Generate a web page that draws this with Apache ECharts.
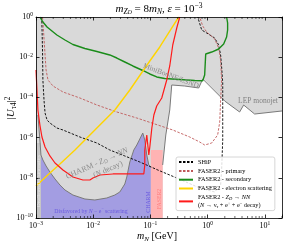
<!DOCTYPE html>
<html><head><meta charset="utf-8">
<script src="https://cdn.jsdelivr.net/npm/echarts@6/dist/echarts.min.js"></script>
<style>html,body{margin:0;padding:0;background:#fff}#c{width:294px;height:245px}</style>
</head><body><div id="c"></div>
<script>
// ---- tick labels (exponents of 10 that carry a label) ----
const xTickExponents = [-3, -2, -1, 0, 1];
const yTickExponents = [0, -2, -4, -6, -8, -10];
const seriesNames = ['SHiP', 'FASER2 - primary', 'FASER2 - secondary', 'FASER2 - electron scattering', 'FASER2 - ZD → NN'];

// ---- curves [m_N (GeV), |U|^2] ----
const shipCurve = [[1.26e-3,1],[1.30e-3,2.28e-2],[1.32e-3,7.34e-4],[1.38e-3,7.43e-5],[1.44e-3,1.67e-5],[1.56e-3,7.51e-6],[1.75e-3,5.32e-6],[2.32e-3,3.00e-6],[2.96e-3,2.39e-6],[5.86e-3,1.07e-6],[1.16e-2,5.38e-7],[1.95e-2,2.42e-7],[3.57e-2,1.22e-7],[6.53e-2,6.11e-8],[0.135,2.44e-8],[0.289,9.78e-9],[0.728,3.11e-9],[1.33,1.97e-9],[1.69,4.38e-9],[1.76,2.44e-8],[1.84,7.60e-7],[1.84,3.33e-5],[1.84,5.20e-4],[1.76,3.25e-3],[1.69,1.29e-2],[1.56,4.05e-2],[1.33,9.02e-2],[0.964,0.160],[0.789,0.226],[0.672,1]];
const primaryCurve = [[1.30e-3,1],[1.35e-3,0.226],[1.44e-3,1.29e-2],[1.50e-3,2.31e-3],[1.62e-3,7.34e-4],[1.98e-3,3.69e-4],[2.96e-3,1.86e-4],[5.86e-3,9.33e-5],[1.16e-2,4.19e-5],[2.59e-2,1.88e-5],[5.79e-2,9.44e-6],[0.135,4.23e-6],[0.246,2.39e-6],[0.487,1.07e-6],[0.728,6.04e-7],[0.889,4.28e-7],[1.18,5.38e-7],[1.50,1.35e-6],[1.63,5.97e-6],[1.69,7.43e-5],[1.76,7.34e-4],[1.69,7.26e-3],[1.56,2.87e-2],[1.33,8.04e-2],[0.964,0.179],[0.821,0.357],[0.728,1]];
const secondaryCurve = [[1.17e-3,1],[1.32e-3,0.564],[1.56e-3,0.318],[1.90e-3,0.201],[2.32e-3,0.127],[3.21e-3,7.18e-2],[4.42e-3,4.28e-2],[7.16e-3,2.71e-2],[1.16e-2,1.92e-2],[1.95e-2,1.29e-2],[2.59e-2,9.12e-3],[3.57e-2,5.77e-3],[4.93e-2,3.65e-3],[7.36e-2,2.18e-3],[9.77e-2,1.46e-3],[0.129,1.04e-3],[0.178,8.71e-4],[0.326,7.78e-4],[0.596,6.93e-4],[0.821,6.78e-4],[0.889,1.30e-3],[0.927,1.44e-2],[1.18,1.81e-2],[1.56,2.56e-2],[1.91,4.54e-2],[2.15,0.101],[2.24,0.226],[2.24,0.503],[2.15,1]];
const scatteringCurve = [[1.0e-3,3.91e-9],[1.75e-3,1.73e-8],[2.62e-3,4.86e-8],[4.80e-3,2.42e-7],[1.07e-2,2.39e-6],[2.39e-2,2.36e-5],[4.37e-2,2.33e-4],[6.80e-2,1.46e-3],[9.77e-2,6.47e-3],[0.146,3.22e-2],[0.218,0.201],[0.313,1]];
const decayCurve = [[1.0e-3,2.31e-3],[1.04e-3,2.33e-4],[1.08e-3,2.36e-5],[1.17e-3,4.23e-6],[1.27e-3,1.07e-6],[1.44e-3,3.40e-7],[1.75e-3,1.22e-7],[2.15e-3,5.45e-8],[2.96e-3,2.44e-8],[4.42e-3,1.10e-8],[6.61e-3,7.78e-9],[8.75e-3,7.78e-9],[9.89e-3,9.78e-9],[1.31e-2,1.38e-8],[2.21e-2,1.55e-8],[4.37e-2,1.55e-8],[7.67e-2,1.55e-8],[7.98e-2,4.34e-8],[7.98e-2,2.42e-7],[8.65e-2,1.35e-6],[9.01e-2,4.28e-7],[9.38e-2,1.36e-7],[9.77e-2,3.40e-7],[0.106,3.00e-6],[0.115,1.33e-5],[0.129,3.73e-5],[0.158,9.33e-5],[0.193,7.34e-4],[0.218,3.65e-3],[0.246,4.05e-2],[0.289,0.284],[0.326,1]];

// ---- excluded / disfavoured regions ----
const excludedEdge = [[0.164,4.34e-8],[0.186,1.35e-6],[0.218,2.36e-5],[0.236,4.14e-4],[0.398,3.69e-4],[0.700,2.94e-4],[0.821,8.22e-4],[0.889,7.34e-4],[1.99,6.62e-5],[3.63,1.88e-5],[4.27,4.19e-5],[6.64,1.49e-5],[20,2.11e-5]];
const allowedBase = [[20,1e-10],[0.164,1e-10]];
const charmEdge = [[1.22e-3,1.36e-7],[1.32e-3,7.69e-8],[1.50e-3,3.87e-8],[1.75e-3,1.94e-8],[2.15e-3,8.71e-9],[2.62e-3,4.38e-9],[3.21e-3,2.47e-9],[4.42e-3,1.39e-9],[7.16e-3,8.81e-10],[1.07e-2,7.87e-10],[1.73e-2,9.89e-10],[2.39e-2,1.39e-9],[2.92e-2,1.97e-9],[3.57e-2,4.92e-9],[3.87e-2,1.10e-8],[4.37e-2,6.11e-8],[5.13e-2,2.42e-7],[5.79e-2,4.28e-7],[6.80e-2,1.07e-6],[7.36e-2,1.69e-6],[7.98e-2,7.60e-7],[8.65e-2,1.36e-7],[9.38e-2,4.34e-8],[0.102,3.45e-8]];
const charmWallTop = [[1.08e-3,1.33e-5],[1.17e-3,7.60e-7]];
const scatterBase = [[0.102,1e-10],[1.22e-3,1e-10]];
const faserBand = [[0.102,1e-10],[0.164,1e-10],[0.164,2.42e-7],[0.102,2.42e-7]];
const kinematicBand = [[1e-3,1e-10],[1.22e-3,1e-10],[1.22e-3,5.38e-7],[1e-3,5.38e-7]];

const F = '"Liberation Serif", "DejaVu Serif", serif';

function tickFmt(list) {
  return v => {
    const e = Math.log10(v), n = Math.round(e);
    if (Math.abs(e - n) > 1e-6 || list.indexOf(n) < 0) return '';
    return '{b|10}{s|' + (n < 0 ? '\u2212' : '') + Math.abs(n) + '}';
  };
}
const labelRich = {
  b: {fontFamily: F, fontSize: 8, lineHeight: 10, verticalAlign: 'middle', color: '#000'},
  s: {fontFamily: F, fontSize: 5.5, lineHeight: 5, verticalAlign: 'top', color: '#000'}
};
function mathRich(m, k, color) {
  const L = Math.round(m * 1.3);
  return {
    i: {fontFamily: F, fontSize: m, fontStyle: 'italic', lineHeight: L, verticalAlign: 'middle', fill: color, color: color},
    r: {fontFamily: F, fontSize: m, lineHeight: L, verticalAlign: 'middle', fill: color, color: color},
    s: {fontFamily: F, fontSize: k, fontStyle: 'italic', lineHeight: k * 0.8, verticalAlign: 'bottom', fill: color, color: color},
    u: {fontFamily: F, fontSize: k, lineHeight: k * 0.8, verticalAlign: 'bottom', fill: color, color: color},
    ss: {fontFamily: F, fontSize: k * 0.75, fontStyle: 'italic', lineHeight: 1, verticalAlign: 'bottom', fill: color, color: color},
    p: {fontFamily: F, fontSize: k, lineHeight: k * 0.7, verticalAlign: 'top', fill: color, color: color}
  };
}

function poly(points, style, z) {
  return {
    type: 'custom', coordinateSystem: 'cartesian2d', data: [points[0]], encode: {x: 0, y: 1},
    silent: true, z: z, clip: true, animation: false,
    renderItem: (p, api) => ({type: 'polygon', shape: {points: points.map(q => api.coord(q))}, style: style})
  };
}
function edge(points, color, width, z) {
  return {type: 'line', data: points, symbol: 'none', silent: true, z: z, animation: false,
    lineStyle: {color: color, width: width}, itemStyle: {color: color}};
}

const axisCommon = {
  type: 'log', logBase: 10, z: 10,
  axisLine: {show: true, onZero: false, lineStyle: {color: '#000', width: 0.8}},
  axisTick: {show: true, inside: true, length: 3.5, lineStyle: {color: '#000', width: 0.8}},
  splitLine: {show: false}, minorTick: {show: false}, splitArea: {show: false}
};

const chart = echarts.init(document.getElementById('c'), null, {renderer: 'canvas'});
const option = {
  animation: false,
  backgroundColor: '#fff',
  grid: {left: 36, right: 12, top: 17, bottom: 27, show: true, backgroundColor: '#d9d9d9', borderWidth: 0},
  xAxis: [
    Object.assign({}, axisCommon, {min: 1e-3, max: 20, position: 'bottom', interval: 1,
      axisLabel: {margin: 3, formatter: tickFmt(xTickExponents), rich: labelRich}}),
    Object.assign({}, axisCommon, {min: 1e-3, max: 20, position: 'top', interval: 1, axisLabel: {show: false}})
  ],
  yAxis: [
    Object.assign({}, axisCommon, {min: 1e-10, max: 1, position: 'left', interval: 2,
      axisLabel: {margin: 3, formatter: tickFmt(yTickExponents), rich: labelRich}}),
    Object.assign({}, axisCommon, {min: 1e-10, max: 1, position: 'right', interval: 2, axisLabel: {show: false}})
  ],
  legend: {
    data: seriesNames, orient: 'vertical', left: 176, top: 157,
    itemWidth: 14, itemHeight: 1, itemGap: 0.6, padding: [1, 3, 1, 2],
    backgroundColor: 'rgba(255,255,255,0.85)', borderColor: '#cccccc', borderWidth: 0.8, borderRadius: 2,
    selectedMode: false,
    itemStyle: {opacity: 0},
    textStyle: {fontFamily: F, fontSize: 6.3, lineHeight: 8.2, color: '#000',
      rich: {
        r: {fontFamily: F, fontSize: 6.3, lineHeight: 8.2, verticalAlign: 'middle'},
        i: {fontFamily: F, fontSize: 6.3, fontStyle: 'italic', lineHeight: 8.2, verticalAlign: 'middle'},
        s: {fontFamily: F, fontSize: 4.5, fontStyle: 'italic', lineHeight: 3, verticalAlign: 'bottom'},
        p: {fontFamily: F, fontSize: 4.5, lineHeight: 3, verticalAlign: 'top'}
      }},
    formatter: name => name === seriesNames[4]
      ? '{r|FASER2 - }{i|Z}{s|D}{r| → }{i|NN}\n{r|(}{i|N}{r| → ν}{s|τ}{r| + e}{p|+}{r| + e}{p|−}{r| decay)}'
      : name
  },
  series: [
    poly(excludedEdge.concat(allowedBase), {fill: '#ffffff'}, 1),
    poly(charmEdge.concat(scatterBase), {fill: '#a39de2'}, 1),
    poly(faserBand, {fill: '#ffb3b3'}, 1),
    poly(kinematicBand, {fill: '#c5c5c5'}, 1),
    edge(excludedEdge, '#7a7a7a', 1, 2),
    edge(charmWallTop.concat(charmEdge), '#7a7a7a', 1, 2),
    {name: seriesNames[0], type: 'line', data: shipCurve, symbol: 'none', silent: true, z: 3,
      lineStyle: {color: '#000000', width: 0.9, type: [2.5, 1.5]}, itemStyle: {color: '#000000'}},
    {name: seriesNames[1], type: 'line', data: primaryCurve, symbol: 'none', silent: true, z: 3,
      lineStyle: {color: '#c05a5a', width: 0.9, type: [2.5, 1.5]}, itemStyle: {color: '#c05a5a'}},
    {name: seriesNames[2], type: 'line', data: secondaryCurve, symbol: 'none', silent: true, z: 3,
      lineStyle: {color: '#1a8c1a', width: 1.4}, itemStyle: {color: '#1a8c1a'}},
    {name: seriesNames[3], type: 'line', data: scatteringCurve, symbol: 'none', silent: true, z: 3,
      lineStyle: {color: '#ffd400', width: 1.4}, itemStyle: {color: '#ffd400'}},
    {name: seriesNames[4], type: 'line', data: decayCurve, symbol: 'none', silent: true, z: 3,
      lineStyle: {color: '#ff1a1a', width: 1.2}, itemStyle: {color: '#ff1a1a'}},
    {
      type: 'custom', coordinateSystem: 'cartesian2d', data: [[1e-3, 1e-10]], encode: {x: 0, y: 1},
      silent: true, z: 11, clip: false, animation: false,
      renderItem: (p, api) => {
        const children = [];
        xTickExponents.forEach(k => {
          for (let m = 2; m <= 9; m++) {
            const v = m * Math.pow(10, k);
            if (v > 20) continue;
            const b = api.coord([v, 1e-10]), t = api.coord([v, 1]);
            children.push({type: 'line', shape: {x1: b[0], y1: b[1], x2: b[0], y2: b[1] - 2}, style: {stroke: '#000', lineWidth: 0.6}});
            children.push({type: 'line', shape: {x1: t[0], y1: t[1], x2: t[0], y2: t[1] + 2}, style: {stroke: '#000', lineWidth: 0.6}});
          }
        });
        return {type: 'group', children: children};
      }
    }
  ],
  graphic: [
    {type: 'text', x: 159, y: 9, z: 20, silent: true, style: {
      text: '{i|m}{s|Z}{ss|D}{r| = 8}{i|m}{s|N}{r|, }{i|ε}{r| = 10}{p|−3}',
      align: 'center', verticalAlign: 'middle', fill: '#000', rich: mathRich(11, 7.5, '#000')}},
    {type: 'text', x: 11, y: 108, rotation: Math.PI / 2, z: 20, silent: true, style: {
      text: '{r||}{i|U}{u|τ4}{r||}{p|2}', align: 'center', verticalAlign: 'middle', fill: '#000',
      rich: mathRich(11, 7.5, '#000')}},
    {type: 'text', x: 157, y: 236, z: 20, silent: true, style: {
      text: '{i|m}{s|N}{r| [GeV]}', align: 'center', verticalAlign: 'middle', fill: '#000',
      rich: mathRich(10, 7, '#000')}},
    {type: 'text', x: 171, y: 76, rotation: -0.36, z: 20, silent: true, style: {
      text: 'MiniBooNE/LSND', align: 'center', verticalAlign: 'middle', fill: '#8a8a8a', fontFamily: F, fontSize: 7.5}},
    {type: 'text', x: 258, y: 101, z: 20, silent: true, style: {
      text: 'LEP monojet', align: 'center', verticalAlign: 'middle', fill: '#808080', fontFamily: F, fontSize: 7.5}},
    {type: 'text', x: 97, y: 163.5, rotation: 0.42, z: 20, silent: true, style: {
      text: '{r|CHARM - }{i|Z}{s|D}{r| → }{i|NN}', align: 'center', verticalAlign: 'middle',
      rich: mathRich(8, 5.5, '#8c8c8c')}},
    {type: 'text', x: 108, y: 169.5, rotation: 0.42, z: 20, silent: true, style: {
      text: '{r|(}{i|N}{r| decay)}', align: 'center', verticalAlign: 'middle',
      rich: mathRich(8, 5.5, '#8c8c8c')}},
    {type: 'text', x: 91, y: 211, z: 20, silent: true, style: {
      text: '{r|Disfavored by }{i|N}{r| − e}{p|−}{r| scattering}', align: 'center', verticalAlign: 'middle',
      rich: mathRich(5.8, 4, '#6a5ae0')}},
    {type: 'text', x: 148, y: 202, rotation: Math.PI / 2, z: 20, silent: true, style: {
      text: 'CHARM', align: 'center', verticalAlign: 'middle', fill: '#6a5ae0', fontFamily: F, fontSize: 5.8}},
    {type: 'text', x: 159, y: 199, rotation: Math.PI / 2, z: 20, silent: true, style: {
      text: 'FASER2', align: 'center', verticalAlign: 'middle', fill: '#ff7b7b', fontFamily: F, fontSize: 5.8}},
    {type: 'text', x: 38.5, y: 181, rotation: Math.PI / 2, z: 20, silent: true, style: {
      text: 'Disallowed by kinematics', align: 'center', verticalAlign: 'middle', fill: '#e8e8e8', fontFamily: F, fontSize: 5}}
  ]
};
chart.setOption(option);
</script>
</body></html>
